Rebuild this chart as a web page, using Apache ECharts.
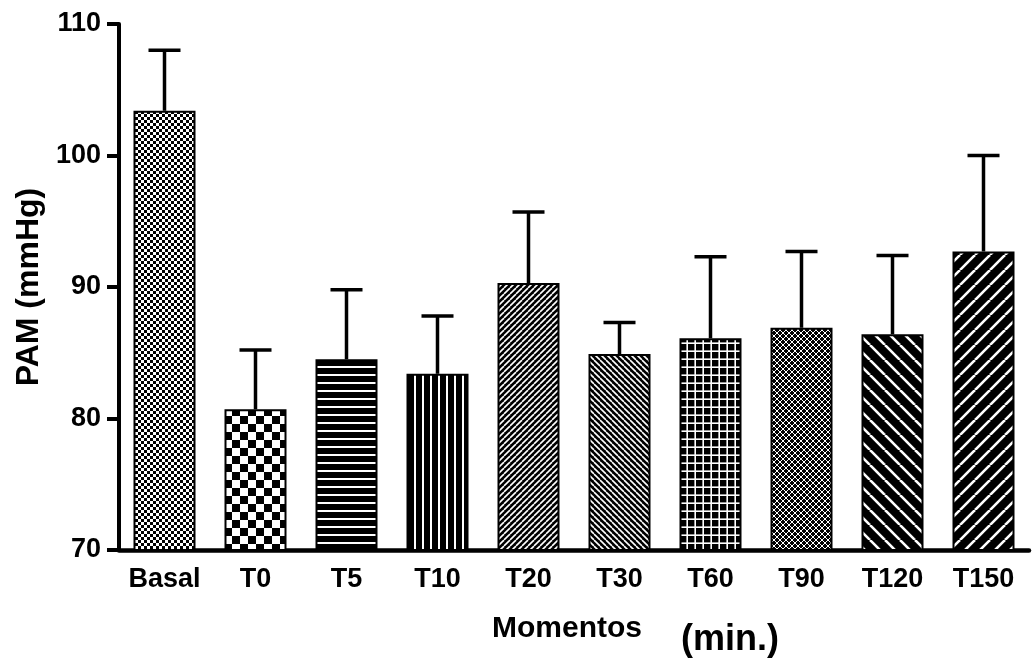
<!DOCTYPE html>
<html>
<head>
<meta charset="utf-8">
<script src="https://cdn.jsdelivr.net/npm/echarts@6/dist/echarts.min.js"></script>
<style>html,body{margin:0;padding:0;background:#fff}#c{width:1036px;height:661px}</style>
</head>
<body>
<div id="c"></div>
<script>
const categories = ['Basal','T0','T5','T10','T20','T30','T60','T90','T120','T150'];
const means = [103.4, 80.7, 84.5, 83.4, 90.3, 84.9, 86.1, 86.9, 86.4, 92.7];
const sds   = [4.6, 4.5, 5.3, 4.4, 5.4, 2.4, 6.2, 5.8, 6.0, 7.3];
const yTicks = [70, 80, 90, 100, 110];

function tile(w, h, draw) {
  const c = document.createElement('canvas');
  c.width = w; c.height = h;
  const g = c.getContext('2d');
  g.fillStyle = '#fff'; g.fillRect(0, 0, w, h);
  draw(g, w, h);
  return { image: c, repeat: 'repeat' };
}
function checker(s) {
  return tile(2*s, 2*s, g => { g.fillStyle = '#000'; g.fillRect(0,0,s,s); g.fillRect(s,s,s,s); });
}
function hLines(p, lw) {
  return tile(p, p, g => { g.fillStyle = '#000'; g.fillRect(0,0,p,p); g.fillStyle = '#fff'; g.fillRect(0,p-lw,p,lw); });
}
function vLines(p, lw) {
  return tile(p, p, g => { g.fillStyle = '#000'; g.fillRect(0,0,p,p); g.fillStyle = '#fff'; g.fillRect(p-lw,0,lw,p); });
}
function grid(p, lw) {
  return tile(p, p, g => { g.fillStyle = '#000'; g.fillRect(0,0,p,p); g.fillStyle = '#fff'; g.fillRect(0,p-lw,p,lw); g.fillRect(p-lw,0,lw,p); });
}
function diag(p, lw, dirs) {
  return tile(p, p, g => {
    g.fillStyle = '#000'; g.fillRect(0,0,p,p);
    g.strokeStyle = '#fff'; g.lineWidth = lw;
    dirs.forEach(d => {
      for (let k = -1; k <= 1; k++) {
        g.beginPath();
        if (d === '/') { g.moveTo(k*p, p); g.lineTo(k*p + p, 0); }
        else { g.moveTo(k*p, 0); g.lineTo(k*p + p, p); }
        g.stroke();
      }
    });
  });
}
const patterns = [
  checker(3),
  checker(8),
  hLines(8, 2),
  vLines(8, 2),
  diag(6, 1.6, ['/']),
  diag(6, 1.6, ['\\']),
  grid(8, 1.6),
  diag(6, 1.0, ['/','\\']),
  diag(15, 2.6, ['\\']),
  diag(15, 2.6, ['/'])
];

const font = '"Liberation Sans", Arial, sans-serif';
const chart = echarts.init(document.getElementById('c'), null, { renderer: 'canvas' });
chart.setOption({
  animation: false,
  backgroundColor: '#fff',
  grid: { left: 119, right: 7, top: 24, bottom: 111, containLabel: false },
  xAxis: {
    type: 'category',
    data: categories,
    axisLine: { lineStyle: { color: '#000', width: 4.5 } },
    axisTick: { alignWithLabel: true, interval: 0, length: 12, lineStyle: { color: '#000', width: 4 } },
    axisLabel: { interval: 0, color: '#000', fontSize: 27, fontWeight: 'bold', fontFamily: font, margin: 16 },
    splitLine: { show: false }
  },
  yAxis: {
    type: 'value',
    min: 70, max: 110, interval: 10,
    name: 'PAM (mmHg)',
    nameLocation: 'middle',
    nameRotate: 90,
    nameGap: 72,
    nameTextStyle: { color: '#000', fontSize: 32, fontWeight: 'bold', fontFamily: font },
    axisLine: { show: true, lineStyle: { color: '#000', width: 4 } },
    axisTick: { show: true, length: 12, lineStyle: { color: '#000', width: 4 } },
    axisLabel: { color: '#000', fontSize: 27, fontWeight: 'bold', fontFamily: font, margin: 18,
      formatter: v => yTicks.includes(v) ? String(v) : '' },
    splitLine: { show: false }
  },
  graphic: [
    { type: 'text', left: 492, top: 614, style: { text: 'Momentos', fill: '#000', font: 'bold 30px ' + font } },
    { type: 'text', left: 681, top: 622, style: { text: '(min.)', fill: '#000', font: 'bold 36px ' + font } }
  ],
  series: [
    {
      type: 'bar',
      barWidth: 62,
      data: means.map((v, i) => ({ value: v, itemStyle: { color: patterns[i] } })),
      itemStyle: { borderColor: '#000', borderWidth: 2 },
      z: 2
    },
    {
      type: 'custom',
      z: 3,
      data: means.map((m, i) => [i, m, sds[i]]),
      renderItem: function (params, api) {
        const x = api.value(0), m = api.value(1), s = api.value(2);
        const p0 = api.coord([x, m]);
        const p1 = api.coord([x, m + s]);
        const half = 16;
        return {
          type: 'group',
          children: [
            { type: 'line', shape: { x1: p0[0], y1: p0[1], x2: p1[0], y2: p1[1] }, style: { stroke: '#000', lineWidth: 3.5 } },
            { type: 'line', shape: { x1: p1[0] - half, y1: p1[1], x2: p1[0] + half, y2: p1[1] }, style: { stroke: '#000', lineWidth: 3.5 } }
          ]
        };
      }
    }
  ]
});
</script>
</body>
</html>
